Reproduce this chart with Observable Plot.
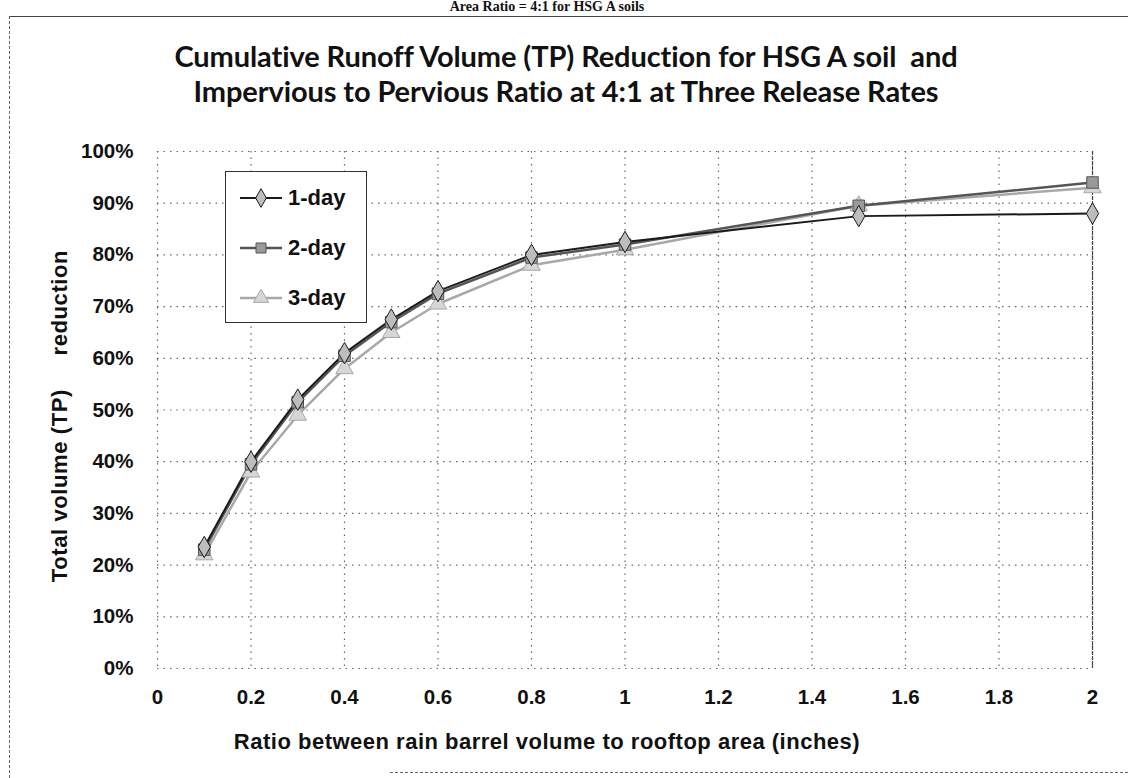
<!DOCTYPE html>
<html>
<head>
<meta charset="utf-8">
<script src="https://cdn.jsdelivr.net/npm/d3@7"></script>
<script src="https://cdn.jsdelivr.net/npm/@observablehq/plot@0.6"></script>
<style>
  html, body { margin: 0; padding: 0; background: #fff; }
  #wrap { position: relative; width: 1128px; height: 778px; overflow: hidden; background: #fff; }
  #chart { position: absolute; left: 0; top: 0; }
  .t { position: absolute; white-space: pre; color: #111; }
  #header { left: 0; width: 1094px; text-align: center; top: 0px; font: bold 14px "Liberation Serif", "DejaVu Serif", serif; line-height: 14px; }
  #title { left: 0; width: 1132px; text-align: center; top: 38px; font: bold 29px Lato, "Open Sans", sans-serif; line-height: 35px; letter-spacing: -0.1px; }
  #xtitle { left: 0; width: 1094px; text-align: center; top: 731px; font: bold 22px "Liberation Sans", Arial, sans-serif; line-height: 22px; letter-spacing: 0.5px; }
  #ytitle { left: 60px; top: 416px; transform: translate(-50%, -50%) rotate(-90deg); font: bold 22px "Liberation Sans", Arial, sans-serif; line-height: 22px; letter-spacing: 0.6px; }
  .border { position: absolute; border-color: #555; }
  #legend { position: absolute; left: 225px; top: 171px; width: 140px; height: 150px; border: 1.5px solid #333; background: #fff; }
  .lrow { position: absolute; left: 12px; height: 24px; display: flex; align-items: center; font: bold 22px "Liberation Sans", Arial, sans-serif; color: #111; }
  .lrow svg { margin-right: 4px; }
</style>
</head>
<body>
<div id="wrap">
  <div class="border" style="left:9px; top:16px; width:1119px; height:0; border-top:1.5px solid #444;"></div>
  <div class="border" style="left:9px; top:16px; width:0; height:762px; border-left:1px dashed #666;"></div>
  <div class="border" style="left:390px; top:772px; width:738px; height:0; border-top:1px dashed #666;"></div>
  <div id="header" class="t">Area Ratio = 4:1 for HSG A soils</div>
  <div id="chart"></div>
  <div id="title" class="t">Cumulative Runoff Volume (TP) Reduction for HSG A soil  and
Impervious to Pervious Ratio at 4:1 at Three Release Rates</div>
  <div id="xtitle" class="t">Ratio between rain barrel volume to rooftop area (inches)</div>
  <div id="ytitle" class="t">Total volume (TP)     reduction</div>
  <div id="legend"></div>
</div>
<script>
// ---- data ----
const xValues = [0.1, 0.2, 0.3, 0.4, 0.5, 0.6, 0.8, 1.0, 1.5, 2.0];
const day1 = [23.5, 40, 52, 61, 67.5, 73, 80, 82.5, 87.5, 88];
const day2 = [23, 39.5, 51.5, 60.5, 67, 72.5, 79.5, 82, 89.5, 94];
const day3 = [22, 38, 49, 58, 65, 70.5, 78, 81, 89.5, 93];
const seriesNames = ["1-day", "2-day", "3-day"];
const xTicks = [0, 0.2, 0.4, 0.6, 0.8, 1, 1.2, 1.4, 1.6, 1.8, 2];
const yTicks = [0, 10, 20, 30, 40, 50, 60, 70, 80, 90, 100];

const seriesValues = [day1, day2, day3];
const seriesStyle = [
  {stroke: "#1a1a1a", fill: "#bdbdbd", symbol: "diamond", width: 2},
  {stroke: "#555555", fill: "#9a9a9a", symbol: "square", width: 2.5},
  {stroke: "#a8a8a8", fill: "#d6d6d6", symbol: "triangle", width: 2.5}
];
const tables = seriesValues.map((vals, s) => xValues.map((x, i) => ({x, y: vals[i], series: seriesNames[s]})));

const lineMarks = [];
[2, 1, 0].forEach(s => {
  const st = seriesStyle[s];
  lineMarks.push(Plot.line(tables[s], {x: "x", y: "y", stroke: st.stroke, strokeWidth: st.width}));
});
[2, 1, 0].forEach(s => {
  const st = seriesStyle[s];
  lineMarks.push(Plot.dot(tables[s], {x: "x", y: "y", symbol: st.symbol, r: 6.5, fill: st.fill, stroke: st.stroke, strokeWidth: 1}));
});

const chart = Plot.plot({
  width: 1128,
  height: 778,
  marginLeft: 157,
  marginRight: 36,
  marginTop: 151,
  marginBottom: 110,
  style: {fontFamily: "'Liberation Sans', Arial, sans-serif", fontSize: "20.5px", fontWeight: "bold", color: "#111", background: "transparent", overflow: "visible"},
  x: {domain: [0, 2], ticks: xTicks, tickSize: 0, tickPadding: 21, tickFormat: d => d3.format("~g")(d), label: null},
  y: {domain: [0, 100], ticks: yTicks, tickSize: 0, tickPadding: 24, tickFormat: d => d + "%", label: null},
  marks: [
    Plot.ruleX(xTicks, {stroke: "#666", strokeDasharray: "1.5,5", strokeWidth: 1.2}),
    Plot.ruleY(yTicks, {stroke: "#666", strokeDasharray: "1.5,5", strokeWidth: 1.2}),
    Plot.ruleX([2], {stroke: "#444", strokeWidth: 1.2, strokeDasharray: "4,1"}),
    ...lineMarks
  ]
});
document.getElementById("chart").appendChild(chart);

// legend (HTML overlay, small inline swatches)
const legend = document.getElementById("legend");
const symPaths = {diamond: d3.symbol(d3.symbolDiamond, 100)(), square: d3.symbol(d3.symbolSquare, 100)(), triangle: d3.symbol(d3.symbolTriangle, 100)()};
seriesNames.forEach((name, s) => {
  const st = seriesStyle[s];
  const row = document.createElement("div");
  row.className = "lrow";
  row.style.top = (14 + s * 50) + "px";
  row.innerHTML = `<svg width="46" height="20"><line x1="2" x2="44" y1="10" y2="10" stroke="${st.stroke}" stroke-width="${st.width}"/><path transform="translate(23,10)" d="${symPaths[st.symbol]}" fill="${st.fill}" stroke="${st.stroke}"/></svg><span>${name}</span>`;
  legend.appendChild(row);
});
</script>
</body>
</html>
